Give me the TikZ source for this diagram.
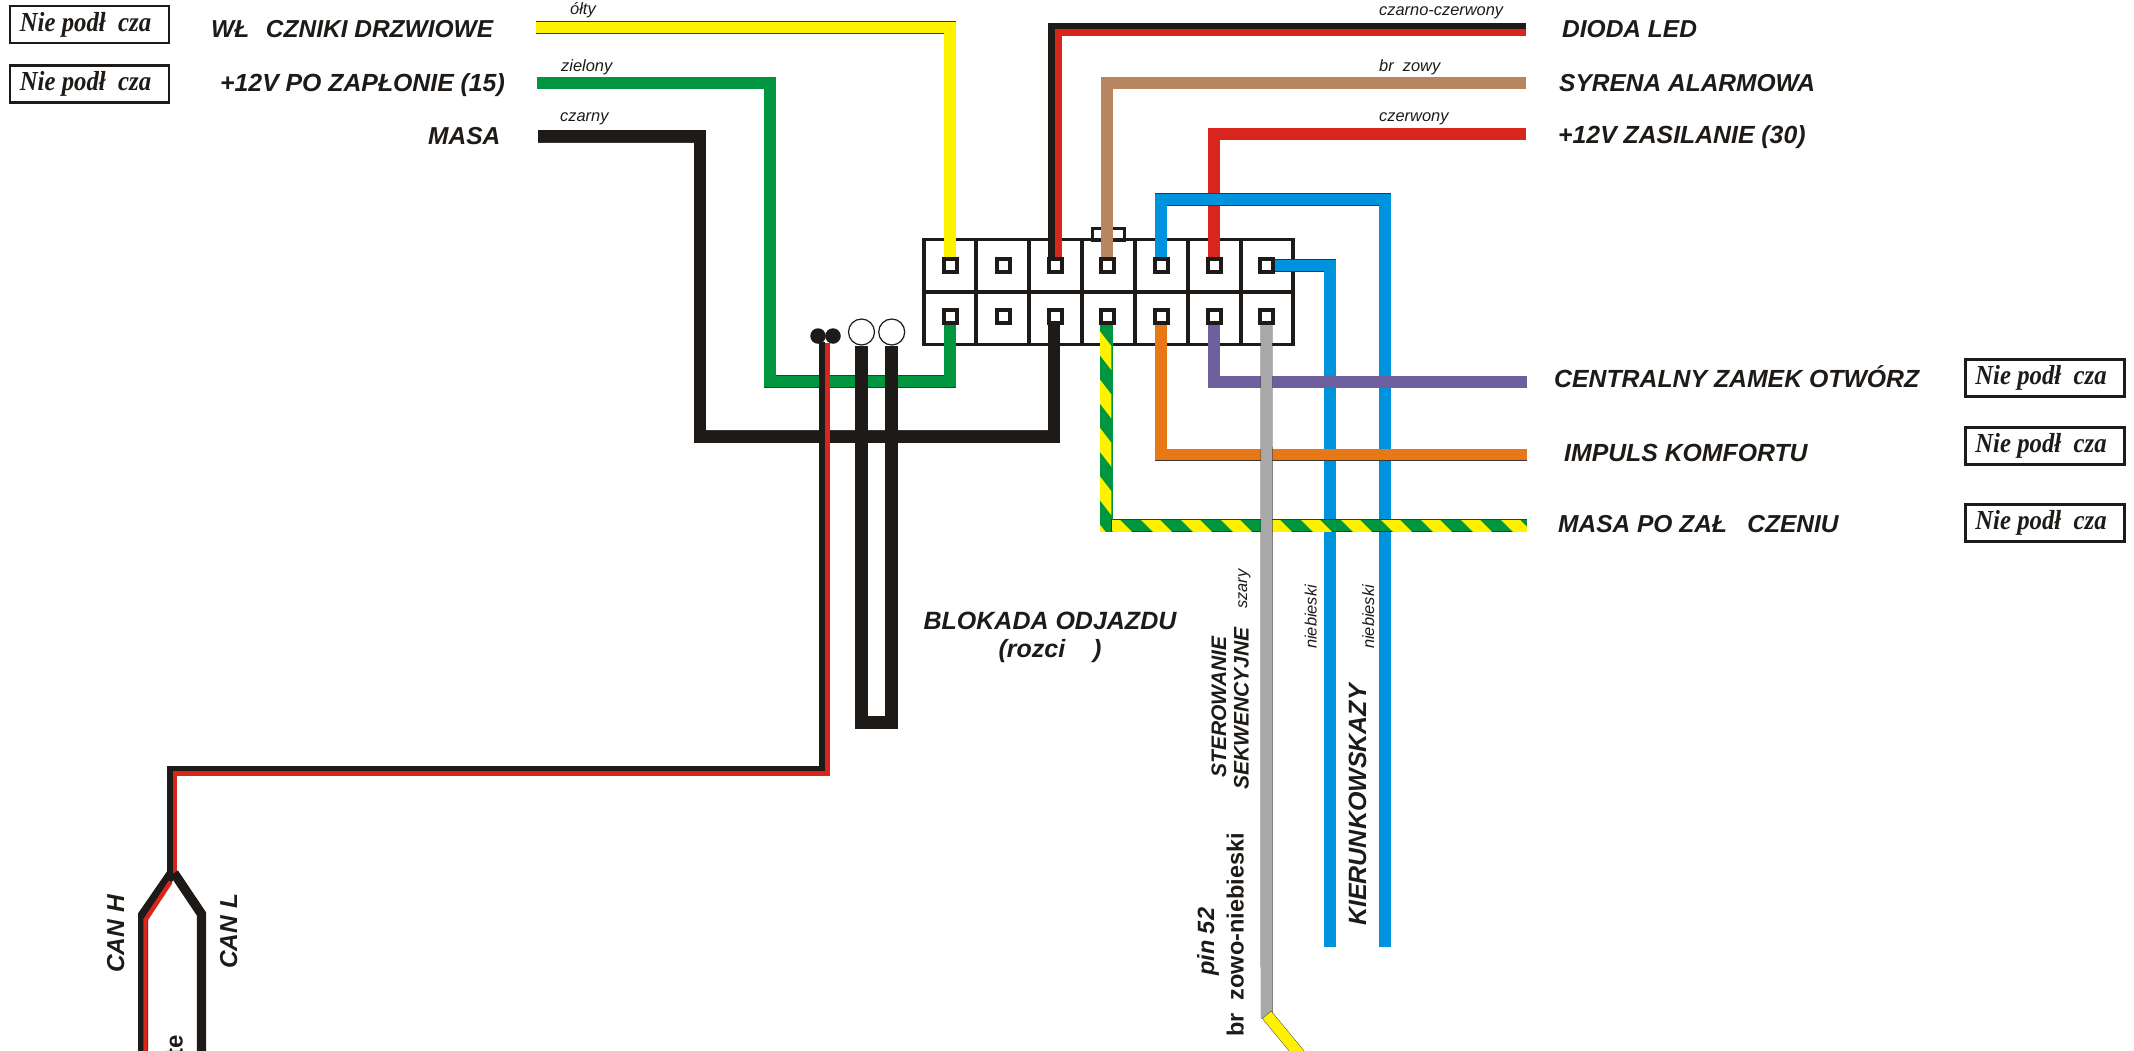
\documentclass[tikz,border=0pt]{standalone}
\usepackage{fontspec}
\setmainfont{Liberation Sans}
\newfontfamily\boxserif{Liberation Serif}
\definecolor{ink}{HTML}{1D1A17}
\definecolor{edge}{HTML}{3A3633}
\definecolor{wyel}{HTML}{FFF200}
\definecolor{wgrn}{HTML}{009640}
\definecolor{wred}{HTML}{D9261C}
\definecolor{wbrn}{HTML}{B98460}
\definecolor{wblu}{HTML}{0093DD}
\definecolor{wpur}{HTML}{6E5F9E}
\definecolor{wora}{HTML}{E87716}
\definecolor{wgry}{HTML}{A8A8A8}
\pgfdeclarelayer{backl}
\pgfdeclarelayer{wirel}
\pgfsetlayers{backl,wirel,main}
\newcommand{\nptext}{\scalebox{.9}[1]{Nie podł\ \ cza}\kern8pt}
\tikzset{
  wirestyle/.style 2 args={draw=#1,line width=#2,preaction={draw=edge,line width=#2+0.9pt,shorten <=-.45pt,shorten >=-.45pt}},
  bare/.style 2 args={draw=#1,line width=#2},
  pinbox/.style={draw=ink,fill=white,line width=4pt,minimum size=13pt,inner sep=0pt,rectangle},
  lab/.style={anchor=base west,inner sep=0pt,text=ink,font=\fontsize{24.5}{28}\bfseries\itshape\selectfont},
  labw/.style={lab,font=\fontsize{24.8}{28}\bfseries\itshape\selectfont},
  smalllab/.style={anchor=base west,inner sep=0pt,text=ink,font=\fontsize{16.4}{18}\itshape\selectfont},
  npbox/.style={draw=ink,line width=2.8pt,fill=white,minimum width=159pt,minimum height=37pt,inner sep=0pt,text=ink,font=\boxserif\fontsize{27.5}{30}\bfseries\itshape\selectfont},
  rotlab/.style={lab,rotate=90},
  rotsmall/.style={smalllab,rotate=90},
}
\begin{document}
\begin{tikzpicture}[x=1pt,y=-1pt]
\useasboundingbox (0,0) rectangle (2134,1050);
\begin{pgfonlayer}{backl}
\fill[white] (0,0) rectangle (2134,1050);
\node[draw=ink,line width=3.6pt,minimum width=369pt,minimum height=105pt,inner sep=0pt] (conn) at (1108.5,291.8) {};
\node[draw=ink,line width=3.3pt,minimum width=32pt,minimum height=12pt,inner sep=0pt] (ctab) at (1108.5,234.5) {};
\foreach \xx in {976,1029,1082,1135,1188,1241}{
  \draw[ink,line width=3.6pt] (\xx,239.4) -- (\xx,344.3);
}
\draw[ink,line width=3.6pt] (conn.west) -- (conn.east);
\end{pgfonlayer}
% pins
\foreach \nn/\xx in {1/950,2/1003,3/1055.5,4/1107,5/1161,6/1214,7/1266.5}{
  \node[pinbox] (p\nn) at (\xx,265.5) {};
  \node[pinbox] (q\nn) at (\xx,316.7) {};
}
% dots
\node[circle,fill=ink,minimum size=15.5pt,inner sep=0pt] (d1) at (818,336) {};
\node[circle,fill=ink,minimum size=15.5pt,inner sep=0pt] (d2) at (833,336) {};
\node[circle,draw=ink,fill=white,line width=1.2pt,minimum size=26pt,inner sep=0pt] (w1) at (861.5,332) {};
\node[circle,draw=ink,fill=white,line width=1.2pt,minimum size=26pt,inner sep=0pt] (w2) at (891.7,332) {};
% free ends
\coordinate (yS) at (536,27.5);
\coordinate (gS) at (537,83);
\coordinate (gC) at (770,381.5);
\coordinate (mS) at (538,136.3);
\coordinate (mC) at (700,436.7);
\coordinate (lK) at (1526,26);
\coordinate (lR) at (1526,32.4);
\coordinate (bS) at (1526,83);
\coordinate (rS) at (1526,134);
\coordinate (uC) at (1270,199.5);
\coordinate (uE) at (1385,947);
\coordinate (vE) at (1330,947);
\coordinate (pE) at (1527,382);
\coordinate (oE) at (1527,454.7);
\coordinate (sE) at (1527,525.4);
\coordinate (gyE) at (1266.7,1018);
\coordinate (yA) at (1267,1015);
\coordinate (yB) at (1300,1055);
\coordinate (ckT) at (822,342);
\coordinate (ckM) at (170,768.5);
\coordinate (ckE) at (170,874);
\coordinate (crT) at (827.3,343);
\coordinate (crM) at (175,773.2);
\coordinate (crE) at (175,874);
\coordinate (lp) at (876,722.5);
\coordinate (hA) at (172,873);
\coordinate (hB) at (143,915);
\coordinate (hC) at (143,1052);
\coordinate (lA) at (174,873);
\coordinate (lB) at (201.5,914);
\coordinate (lC) at (201.5,1052);
\coordinate (hrA) at (170.7,881.7);
\coordinate (hrB) at (145.5,920);
\coordinate (hrC) at (145.5,1052);
\begin{pgfonlayer}{wirel}
\draw[wirestyle={wgrn}{11.2pt}] (gS) -| (gC) -| (q1.south);
\draw[wirestyle={ink}{11.8pt}] (mS) -| (mC) -| ([xshift=-1.5pt]q3.south);
\draw[wirestyle={wyel}{11.2pt}] (yS) -| (p1.north);
\draw[bare={ink}{6.8pt}] (lK) -| ([xshift=-4pt]p3.north);
\draw[bare={wred}{6.8pt}] (lR) -| ([xshift=3pt]p3.north);
\draw[wirestyle={wbrn}{11.2pt}] (bS) -| (p4.north);
\draw[wirestyle={wred}{11.2pt}] (rS) -| (p6.north);
\draw[wirestyle={wblu}{11.2pt}] (p5.north) |- (uC) -| (uE);
\draw[wirestyle={wblu}{11.2pt}] (p7.east) -| (vE);
\draw[wirestyle={wpur}{11.2pt}] (q6.south) |- (pE);
\draw[wirestyle={wora}{11.2pt}] (q5.south) |- (oE);
% striped wire: green base with yellow bands
\draw[wirestyle={wgrn}{11.4pt}] (q4.south) |- (sE);
\begin{scope}
  \clip (1100,323) rectangle (1111.4,531.4);
  \fill[wgrn] (1090,320) rectangle (1120,540);
  \foreach \yy in {330,378.3,426.6,475,523.3}{
    \fill[wyel] (1099,\yy) -- (1112,\yy+17) -- (1112,\yy+41) -- (1099,\yy+24) -- cycle;
  }
\end{scope}
\draw[edge,line width=.9pt] (1111.8,519) -- (1111.8,531.6);
\begin{scope}
  \clip (1112.2,520) rectangle (1527,531);
  \foreach \xx in {1100,1140,...,1540}{
    \fill[wyel] (\xx,519) -- (\xx+19,519) -- (\xx+32,532) -- (\xx+13,532) -- cycle;
  }
\end{scope}
% grey wire with yellow tail
\draw[wirestyle={wgry}{11pt}] (q7.south) -- (gyE);
\draw[wirestyle={wyel}{11pt}] (yA) -- (yB);
% blocking loop
\draw[bare={ink}{12.8pt}] (w1.south) |- (lp) -| (w2.south);
% CAN pair
\draw[bare={ink}{5.8pt}] (ckT) |- (ckM) -- (ckE);
\draw[bare={wred}{4.6pt}] (crT) |- (crM) -- (crE);
\draw[bare={ink}{10pt}] (hA) -- (hB) -- (hC);
\draw[bare={ink}{9.4pt}] (lA) -- (lB) -- (lC);
\draw[bare={wred}{4.4pt}] (hrA) -- (hrB) -- (hrC);
\end{pgfonlayer}
% boxes
\node[npbox] (n1) at (89.5,24.5) {\nptext};
\node[npbox] (n2) at (89.5,84) {\nptext};
\node[npbox] (n3) at (2045,378) {\nptext};
\node[npbox] (n4) at (2045,446) {\nptext};
\node[npbox] (n5) at (2045,523) {\nptext};
% left labels
\node[lab] (t1) at (211,37) {WŁ\ \ \hspace{3pt}CZNIKI DRZWIOWE};
\node[labw] (t2) at (220,91) {+12V PO ZAPŁONIE (15)};
\node[lab] (t3) at (428,144) {MASA};
\node[smalllab] (c1) at (570,14) {ółty};
\node[smalllab] (c2) at (561,71) {zielony};
\node[smalllab] (c3) at (560,121) {czarny};
% right labels
\node[lab] (t4) at (1562,37) {DIODA LED};
\node[lab] (t5) at (1559,91) {SYRENA ALARMOWA};
\node[labw] (t6) at (1558,143) {+12V ZASILANIE (30)};
\node[smalllab] (c4) at (1379,15) {czarno-czerwony};
\node[smalllab] (c5) at (1379,71) {br\ \ zowy};
\node[smalllab] (c6) at (1379,121) {czerwony};
\node[labw] (t7) at (1554,387) {CENTRALNY ZAMEK OTWÓRZ};
\node[labw] (t8) at (1564,461) {IMPULS KOMFORTU};
\node[lab] (t9) at (1558,532) {MASA PO ZAŁ\ \ \ CZENIU};
\node[lab,anchor=base,font=\fontsize{25}{28}\bfseries\itshape\selectfont] (t10) at (1050,629) {BLOKADA ODJAZDU};
\node[lab,anchor=base,font=\fontsize{25}{28}\bfseries\itshape\selectfont] (t11) at (1050,657) {(rozci\ \ \ \ )};
% rotated labels
\node[rotsmall] (c7) at (1247,609) {szary};
\node[rotsmall] (c8) at (1316.5,649) {niebieski};
\node[rotsmall] (c9) at (1374,649) {niebieski};
\node[rotlab,font=\fontsize{21}{24}\bfseries\itshape\selectfont] (t12) at (1226,778) {STEROWANIE};
\node[rotlab,font=\fontsize{21}{24}\bfseries\itshape\selectfont] (t13) at (1248.5,790) {SEKWENCYJNE};
\node[rotlab,font=\fontsize{25}{28}\bfseries\itshape\selectfont] (t14) at (1366,926) {KIERUNKOWSKAZY};
\node[rotlab,font=\fontsize{23.5}{26}\bfseries\itshape\selectfont] (t15) at (1214,976) {pin 52};
\node[rotlab,font=\fontsize{23.5}{26}\bfseries\selectfont] (t16) at (1243.5,1037) {br\ \ zowo-niebieski};
\node[rotlab] (t17) at (124,973) {CAN H};
\node[rotlab] (t18) at (237,969) {CAN L};
\node[rotlab,font=\fontsize{24}{26}\bfseries\selectfont] (t19) at (182.5,1057) {te};
\end{tikzpicture}
\end{document}
